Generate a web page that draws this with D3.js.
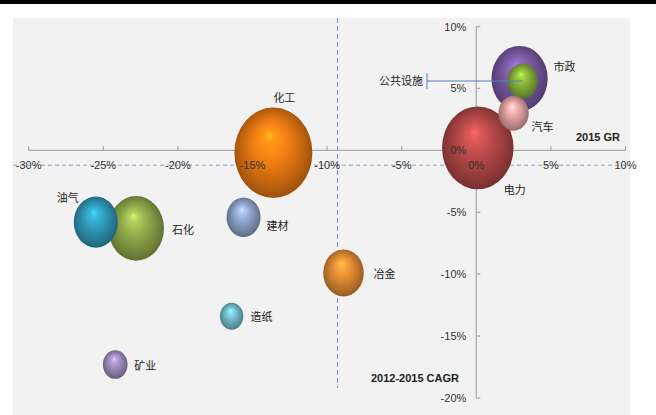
<!DOCTYPE html>
<html>
<head>
<meta charset="utf-8">
<script src="https://cdn.jsdelivr.net/npm/d3@7"></script>
<style>
  html, body { margin: 0; padding: 0; background: #ffffff; }
  svg { display: block; }
  text { font-family: "Liberation Sans", Arial, sans-serif; }
  .cn { font-family: "Noto Sans CJK SC", sans-serif; }
</style>
</head>
<body>
<svg id="chart" width="656" height="415"></svg>
<script>
// Sector bubble chart: 2015 growth rate (x) vs 2012-2015 CAGR (y)
const sectors    = ['市政', '公共设施', '汽车', '电力', '化工', '油气', '石化', '建材', '冶金', '造纸', '矿业'];
const gr2015     = [2.9, 3.1, 2.5, 0.1, -13.6, -25.5, -22.8, -15.6, -8.9, -16.4, -24.2];
const cagr       = [5.8, 5.6, 3.0, 0.2, -0.2, -5.8, -6.3, -5.4, -9.9, -13.4, -17.3];
const bubbleSize = [52, 15, 15, 84, 100, 32, 51, 19, 27, 9, 10];
const xTicks = [-30, -25, -20, -15, -10, -5, 0, 5, 10];
const yTicks = [10, 5, 0, -5, -10, -15, -20];
const avgGr = -9.3;    // vertical dashed reference line
const avgCagr = -1.2;  // horizontal dashed reference line

const colors = {
  '市政': '#7b5aa6', '公共设施': '#86b03a', '汽车': '#e0a0a0', '电力': '#b54848',
  '化工': '#ec7a12', '油气': '#2f98b6', '石化': '#8fa84a', '建材': '#8ea2c8',
  '冶金': '#e08a32', '造纸': '#72b8c8', '矿业': '#9c8cba'
};

// label placement relative to bubble centre (px)
const labelOffset = {
  '市政': [45, -12], '汽车': [29, 14], '电力': [37, 42], '化工': [11, -55],
  '油气': [-28, -24], '石化': [47, 2], '建材': [34, 9], '冶金': [41, 1],
  '造纸': [30, 1], '矿业': [30, 1]
};

const svg = d3.select('#chart');
const x = d3.scaleLinear().domain([-30, 10]).range([28.7, 625.5]);
const y = d3.scaleLinear().domain([-20, 10]).range([398, 26.5]);
const r = d3.scaleSqrt().domain([0, 100]).range([0, 39]);
const aspect = 1.16;

// frame
svg.append('rect').attr('x', 0).attr('y', 0).attr('width', 656).attr('height', 4).attr('fill', '#000');
svg.append('rect').attr('x', 13).attr('y', 18).attr('width', 617).attr('height', 397).attr('fill', '#f2f2f2');

// sphere shading gradients
const defs = svg.append('defs');
sectors.forEach((s, i) => {
  const c = d3.color(colors[s]);
  const g = defs.append('radialGradient').attr('id', 'g' + i)
    .attr('cx', '50%').attr('cy', '50%').attr('r', '55%')
    .attr('fx', '45%').attr('fy', '30%');
  const stops = [
    [0, c.brighter(1.1)], [0.14, c.brighter(0.6)], [0.45, c],
    [0.78, c.darker(0.7)], [0.92, c.darker(1.1)], [1, c.darker(0.4)]
  ];
  stops.forEach(([o, col]) => g.append('stop').attr('offset', o).attr('stop-color', col));
});

// reference dashed lines
svg.append('line').attr('x1', 13).attr('x2', 630).attr('y1', y(avgCagr)).attr('y2', y(avgCagr))
  .attr('stroke', '#8aa4c8').attr('stroke-width', 1).attr('stroke-dasharray', '4,3');
svg.append('line').attr('x1', x(avgGr)).attr('x2', x(avgGr)).attr('y1', 18).attr('y2', 388)
  .attr('stroke', '#6f8fbf').attr('stroke-width', 1).attr('stroke-dasharray', '5,3');

// axis lines and ticks
const axisColor = '#ababab';
svg.append('line').attr('x1', x(-30)).attr('x2', x(10)).attr('y1', y(0)).attr('y2', y(0))
  .attr('stroke', axisColor).attr('stroke-width', 1.3);
svg.selectAll('.xt').data(xTicks).enter().append('line')
  .attr('x1', d => x(d)).attr('x2', d => x(d)).attr('y1', y(0)).attr('y2', y(0) - 4)
  .attr('stroke', axisColor).attr('stroke-width', 1.3);
svg.append('line').attr('x1', x(0)).attr('x2', x(0)).attr('y1', y(10)).attr('y2', y(-20))
  .attr('stroke', axisColor).attr('stroke-width', 1.3);
svg.selectAll('.yt').data(yTicks).enter().append('line')
  .attr('x1', x(0)).attr('x2', x(0) + 4).attr('y1', d => y(d)).attr('y2', d => y(d))
  .attr('stroke', axisColor).attr('stroke-width', 1.3);

// bubbles, larger ones behind
const data = sectors.map((s, i) => ({ name: s, gr: gr2015[i], cagr: cagr[i], size: bubbleSize[i], i }));
const order = data.slice().sort((a, b) => b.size - a.size);
svg.append('g').selectAll('ellipse').data(order).enter().append('ellipse')
  .attr('cx', d => x(d.gr)).attr('cy', d => y(d.cagr))
  .attr('rx', d => r(d.size)).attr('ry', d => r(d.size) * aspect)
  .attr('fill', d => `url(#g${d.i})`);

// callout for 公共设施
const pub = data[1];
svg.append('line').attr('x1', x(pub.gr)).attr('x2', 427).attr('y1', y(pub.cagr)).attr('y2', y(pub.cagr))
  .attr('stroke', '#4f81bd').attr('stroke-width', 1);
svg.append('line').attr('x1', 427).attr('x2', 427).attr('y1', y(pub.cagr) - 8).attr('y2', y(pub.cagr) + 8)
  .attr('stroke', '#4f81bd').attr('stroke-width', 1);
svg.append('text').attr('class', 'cn').attr('x', 423).attr('y', y(pub.cagr) + 4)
  .attr('text-anchor', 'end').attr('font-size', 11).attr('fill', '#222').text(pub.name);

// bubble labels
svg.append('g').selectAll('text').data(data.filter(d => labelOffset[d.name])).enter().append('text')
  .attr('class', 'cn')
  .attr('x', d => x(d.gr) + labelOffset[d.name][0])
  .attr('y', d => y(d.cagr) + labelOffset[d.name][1] + 4)
  .attr('text-anchor', 'middle').attr('font-size', 11).attr('fill', '#222')
  .text(d => d.name);

// tick labels
svg.selectAll('.xl').data(xTicks).enter().append('text')
  .attr('x', d => x(d)).attr('y', y(0) + 19).attr('text-anchor', 'middle')
  .attr('font-size', 11).attr('fill', '#333').text(d => d + '%');
svg.selectAll('.yl').data(yTicks).enter().append('text')
  .attr('x', x(0) - 10).attr('y', d => y(d) + 4).attr('text-anchor', 'end')
  .attr('font-size', 11).attr('fill', '#333').text(d => d + '%');

// axis titles
svg.append('text').attr('x', 620).attr('y', 141).attr('text-anchor', 'end')
  .attr('font-size', 11).attr('font-weight', 'bold').attr('fill', '#222').text('2015 GR');
svg.append('text').attr('x', 459).attr('y', 382).attr('text-anchor', 'end')
  .attr('font-size', 11).attr('font-weight', 'bold').attr('fill', '#222').text('2012-2015 CAGR');
</script>
</body>
</html>
